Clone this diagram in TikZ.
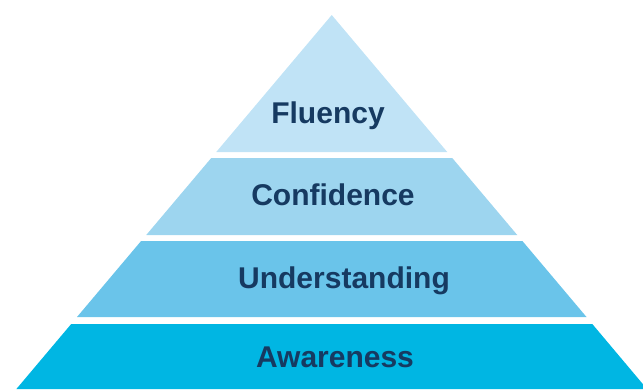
\documentclass[tikz,border=0pt]{standalone}
\usepackage{fontspec}
\setmainfont{Liberation Sans}
\definecolor{cFlu}{HTML}{C0E3F6}
\definecolor{cCon}{HTML}{9DD5EF}
\definecolor{cUnd}{HTML}{6AC4EA}
\definecolor{cAwa}{HTML}{00B6E3}
\definecolor{cTxt}{HTML}{163A61}
\tikzset{
  lbl/.style={anchor=base, inner sep=0pt, text=cTxt, font=\fontsize{30}{36}\selectfont\bfseries}
}
\begin{document}
\begin{tikzpicture}[x=1pt,y=-1pt]
\useasboundingbox (0,0) rectangle (643,389);
\clip (0,0) rectangle (643,389);
\fill[cFlu] (331.75,15) -- (447.25,152) -- (216.25,152) -- cycle;
\fill[cCon] (211.25,158) -- (452.25,158) -- (517.25,235) -- (146.25,235) -- cycle;
\fill[cUnd] (141.1,241) -- (522.4,241) -- (586.5,317) -- (77,317) -- cycle;
\fill[cAwa] (71.2,324) -- (592.3,324) -- (647,389) -- (16.4,389) -- cycle;
\node[lbl] (flu) at (328,123) {Fluency};
\node[lbl] (con) at (333,205.5) {Confidence};
\node[lbl] (und) at (344,288) {Understanding};
\node[lbl] (awa) at (335,367) {Awareness};
\end{tikzpicture}
\end{document}
